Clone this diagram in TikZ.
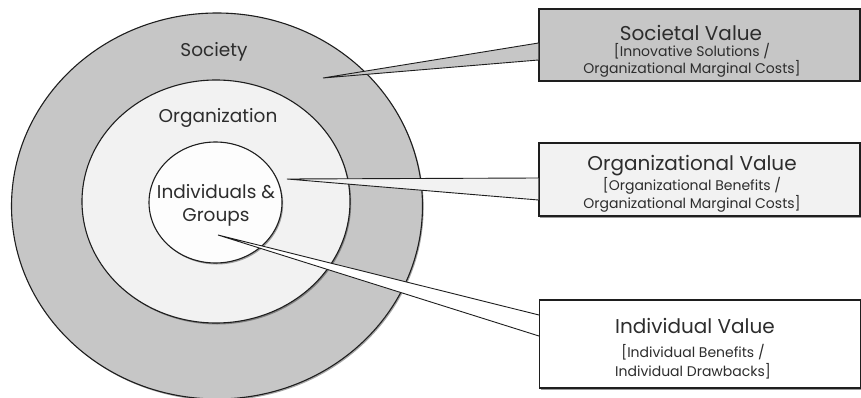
\documentclass[tikz,border=0pt]{standalone}
\usepackage{fontspec}
\setmainfont{Poppins}
\usetikzlibrary{shapes.geometric,shadows}
\definecolor{ringdark}{RGB}{198,198,198}
\definecolor{ringlight}{RGB}{242,242,242}
\definecolor{ringwhite}{RGB}{253,253,253}
\definecolor{edge}{RGB}{30,30,30}
\definecolor{txt}{RGB}{45,45,45}
\tikzset{
  ring/.style={ellipse, draw=edge, line width=1.1pt, inner sep=0pt,
    drop shadow={shadow xshift=1.2pt, shadow yshift=-1.5pt, fill=black, opacity=0.35}},
  valbox/.style={rectangle, draw=edge, line width=1.1pt, inner sep=0pt,
    minimum width=321pt, text=txt, align=center,
    drop shadow={shadow xshift=1.2pt, shadow yshift=-1.5pt, fill=black, opacity=0.4}},
  wedge/.style={draw=edge, line width=0.9pt, line join=miter},
  lbl/.style={text=txt, font=\fontsize{18.5}{23}\selectfont, inner sep=0pt, align=center},
  titlelbl/.style={text=txt, font=\fontsize{20}{24}\selectfont, inner sep=0pt, align=center},
  sublbl/.style={text=txt, font=\fontsize{14}{16.7}\selectfont, inner sep=0pt, align=center},
}
\begin{document}
\begin{tikzpicture}[x=1pt,y=-1pt]
\useasboundingbox[fill=white] (0,0) rectangle (861,398);
% rings
\node[ring, fill=ringdark, minimum width=411pt, minimum height=386pt] (outer) at (217,206) {};
\node[ring, fill=ringlight, minimum width=268pt, minimum height=243pt] (mid) at (216,201.5) {};
\node[ring, fill=ringwhite, minimum width=133pt, minimum height=121pt] (inner) at (215.5,202.5) {};
% ring labels
\node[lbl] (lsoc) at (214,52) {Society};
\node[lbl] (lorg) at (218,118) {Organization};
\node[lbl] (lind) at (216,205) {Individuals \&\\Groups};
% boxes
\node[valbox, fill=ringdark, minimum height=72pt] (b1) at (699.5,45) {};
\node[valbox, fill=ringlight, minimum height=73pt] (b2) at (699.5,179.5) {};
\node[valbox, fill=white, minimum height=88pt] (b3) at (700,344) {};
% callout tips
\coordinate (t1) at (323,78);
\coordinate (t2) at (287,179);
\coordinate (t3) at (218,235);
% wedges
\fill[ringdark] (t1) -- ([yshift=2pt]b1.west) -- ([yshift=-15pt]b1.west) -- cycle;
\draw[wedge] ([yshift=2pt]b1.west) -- (t1) -- ([yshift=-15pt]b1.west);
\fill[ringlight] (t2) -- ([yshift=1.5pt]b2.west) -- ([yshift=-20.5pt]b2.west) -- cycle;
\draw[wedge] ([yshift=1.5pt]b2.west) -- (t2) -- ([yshift=-20.5pt]b2.west);
\fill[white] (t3) -- ([yshift=29pt]b3.west) -- ([yshift=8pt]b3.west) -- cycle;
\draw[wedge] ([yshift=29pt]b3.west) -- (t3) -- ([yshift=8pt]b3.west);
% box texts
\node[titlelbl] (s1) at (691,33) {Societal Value};
\node[sublbl] (s1a) at (692,60) {[Innovative Solutions /\\Organizational Marginal Costs]};
\node[titlelbl] (s2) at (692,166) {Organizational Value};
\node[sublbl] (s2a) at (692,195) {[Organizational Benefits /\\Organizational Marginal Costs]};
\node[titlelbl] (s3) at (695,326) {Individual Value};
\node[sublbl, font=\fontsize{14}{19}\selectfont] (s3a) at (693,362) {[Individual Benefits /\\Individual Drawbacks]};
\end{tikzpicture}
\end{document}
